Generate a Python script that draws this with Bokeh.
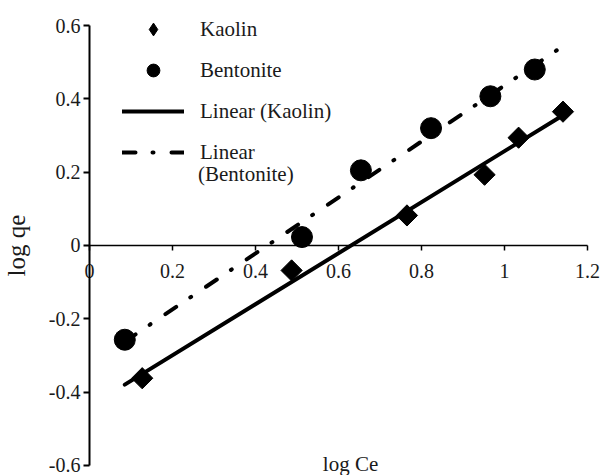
import numpy as np
from bokeh.plotting import figure
from bokeh.models import Range1d, FixedTicker, Legend, LegendItem, Label
from bokeh.embed import file_html
from bokeh.resources import INLINE
from bokeh.core.properties import value

# ---- data ----
kaolin_x = [0.127, 0.487, 0.765, 0.952, 1.034, 1.141]
kaolin_y = [-0.362, -0.068, 0.082, 0.193, 0.294, 0.365]
bentonite_x = [0.085, 0.512, 0.654, 0.823, 0.966, 1.073]
bentonite_y = [-0.257, 0.023, 0.205, 0.320, 0.407, 0.480]

x_ticks = [0, 0.2, 0.4, 0.6, 0.8, 1.0, 1.2]
x_tick_labels = ["0", "0.2", "0.4", "0.6", "0.8", "1", "1.2"]
y_ticks = [-0.6, -0.4, -0.2, 0, 0.2, 0.4, 0.6]
y_tick_labels = ["-0.6", "-0.4", "-0.2", "0", "0.2", "0.4", "0.6"]
series_names = ["Kaolin", "Bentonite", "Linear (Kaolin)", "Linear", "(Bentonite)"]
x_title = "log Ce"
y_title = "log qe"

FONT = "Liberation Serif"
TXT = "#1a1a1a"

# the frame fills the canvas; axes cross at the origin
p = figure(frame_width=603, frame_height=475, title=None,
           x_range=Range1d(-0.2145, 1.2386), y_range=Range1d(-0.6273, 0.6682),
           output_backend="svg", toolbar_location=None,
           min_border_left=0, min_border_top=0, min_border_right=0, min_border_bottom=0)
p.grid.visible = False
p.outline_line_color = None

# linear trend lines (least squares over the data)
all_x = kaolin_x + bentonite_x
fit_x = np.array([min(all_x), max(all_x)])
k_fit = np.polyfit(kaolin_x, kaolin_y, 1)
b_fit = np.polyfit(bentonite_x, bentonite_y, 1)

r_kl = p.line(fit_x, np.polyval(k_fit, fit_x), line_color="black", line_width=4, line_cap="round")
r_bl = p.line(fit_x, np.polyval(b_fit, fit_x), line_color="black", line_width=4,
              line_dash="13 17 1 18", line_cap="round")

# legend sample for the diamonds (the legend does not rotate markers); hidden under the points
r_k_leg = p.scatter(kaolin_x, kaolin_y, marker="diamond", size=8,
                    fill_color="black", line_color="black")
r_k = p.scatter(kaolin_x, kaolin_y, marker="square", size=15, angle=np.pi / 4,
                fill_color="black", line_color="black")
r_b = p.scatter(bentonite_x, bentonite_y, marker="circle", size=21,
                fill_color="black", line_color="black")
r_blank = p.line([], [], line_alpha=0)

# axes
xa = p.xaxis[0]
xa.fixed_location = 0
xa.bounds = (x_ticks[0], x_ticks[-1])
xa.ticker = FixedTicker(ticks=x_ticks)
xa.major_label_overrides = dict(zip(x_ticks, x_tick_labels))
xa.major_tick_out = 5
xa.major_tick_in = 0
xa.minor_tick_line_color = None
xa.axis_line_width = 1.5
xa.major_tick_line_width = 1.5
xa.major_label_standoff = 14
xa.major_label_text_font = FONT
xa.major_label_text_font_size = "20px"
xa.major_label_text_color = TXT

ya = p.yaxis[0]
ya.fixed_location = 0
ya.bounds = (y_ticks[0], y_ticks[-1])
ya.ticker = FixedTicker(ticks=y_ticks)
ya.major_label_overrides = dict(zip(y_ticks, y_tick_labels))
ya.major_tick_out = 6
ya.major_tick_in = 0
ya.minor_tick_line_color = None
ya.axis_line_width = 2
ya.major_tick_line_width = 2
ya.major_label_standoff = 3
ya.major_label_text_font = FONT
ya.major_label_text_font_size = "20px"
ya.major_label_text_color = TXT
ya.axis_label = y_title
ya.axis_label_text_font = FONT
ya.axis_label_text_font_size = "25px"
ya.axis_label_text_font_style = "normal"
ya.axis_label_text_color = TXT
ya.axis_label_standoff = 16

p.add_layout(Label(x=350, y=12, x_units="screen", y_units="screen", text=x_title,
                   text_align="center", text_baseline="alphabetic",
                   text_font=FONT, text_font_size="21px", text_color=TXT))

legend_style = dict(orientation="vertical", glyph_width=62, glyph_height=32,
                    label_height=32, spacing=9, padding=0, margin=0, label_standoff=16,
                    border_line_color=None, background_fill_alpha=0,
                    label_text_font=FONT, label_text_font_size="21px", label_text_color=TXT)

legend = Legend(items=[
    LegendItem(label=value(series_names[0]), renderers=[r_k_leg]),
    LegendItem(label=value(series_names[1]), renderers=[r_b]),
    LegendItem(label=value(series_names[2]), renderers=[r_kl]),
    LegendItem(label=value(series_names[3]), renderers=[r_bl]),
], location=(122, 307), **legend_style)
p.add_layout(legend, "center")

legend2 = Legend(items=[
    LegendItem(label=value(series_names[4]), renderers=[r_blank]),
], location=(120, 285), **legend_style)
p.add_layout(legend2, "center")

open("out.html", "w").write(file_html(p, INLINE))
